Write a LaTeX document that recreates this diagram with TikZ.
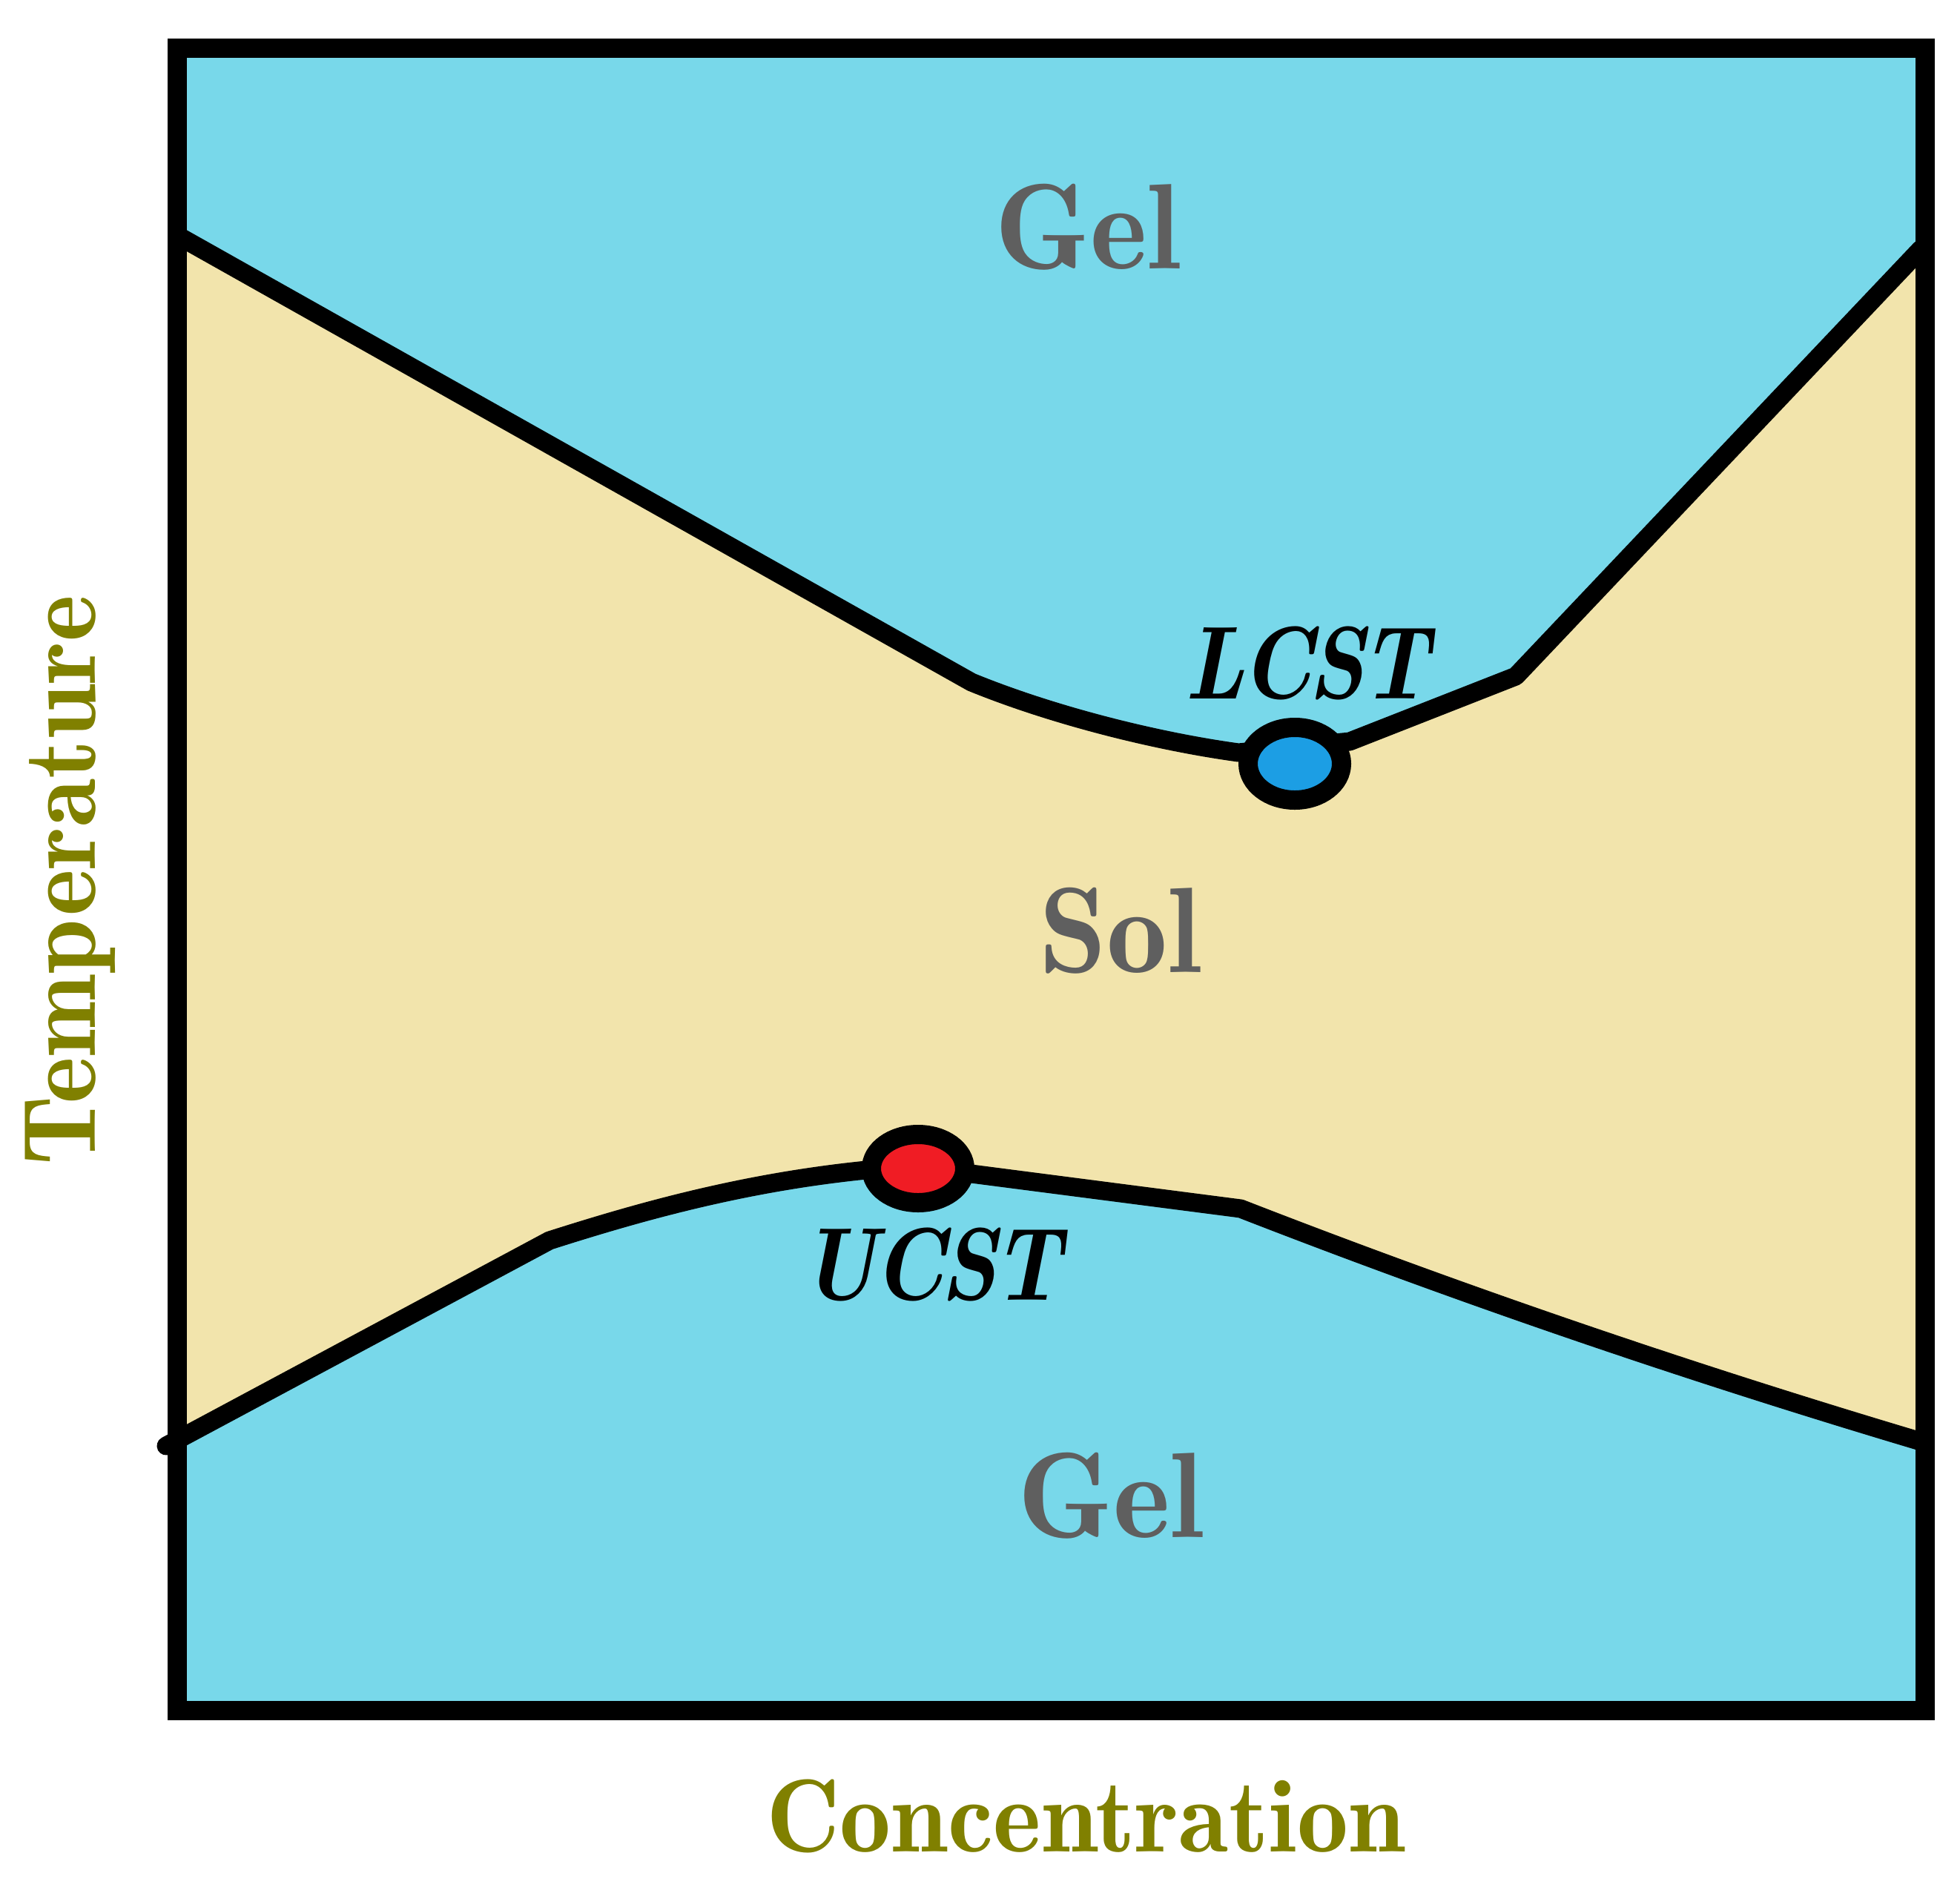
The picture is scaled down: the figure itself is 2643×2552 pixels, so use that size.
\documentclass[tikz,border=0pt]{standalone}
\usepackage{fontspec}
\newfontfamily\labelbf{lmromandemi10-regular.otf}
\newfontfamily\labelbfit{lmromandemi10-regular.otf}[FakeSlant=0.22]
\usetikzlibrary{shapes.geometric}
\definecolor{gelblue}{RGB}{120,216,234}
\definecolor{solbeige}{RGB}{242,228,172}
\definecolor{dotblue}{RGB}{28,158,228}
\definecolor{dotred}{RGB}{240,28,36}
\definecolor{axisolive}{RGB}{128,128,0}
\definecolor{phasegray}{RGB}{95,95,95}
\tikzset{
  boundary/.style={line width=25pt, line join=round, line cap=round, black},
  phaselabel/.style={font=\labelbf\fontsize{164}{164}\selectfont, text=phasegray, anchor=base, inner sep=0pt},
  pointlabel/.style={font=\labelbfit\fontsize{140}{140}\selectfont, text=black, anchor=base, inner sep=0pt},
  axislabel/.style={font=\labelbf\fontsize{140}{140}\selectfont, text=axisolive, anchor=base, inner sep=0pt},
  critdot/.style={ellipse, draw=black, line width=26pt, inner sep=0pt, minimum width=126pt, minimum height=98pt}
}
\begin{document}
\begin{tikzpicture}[x=1pt,y=-1pt]
\useasboundingbox (0,0) rectangle (2643,2552);
\fill[white] (0,0) rectangle (2643,2552);
% gel background
\fill[gelblue] (239,65) rectangle (2596,2307);
% sol region
\fill[solbeige] (240,318) -- (1310,920) .. controls (1420,965) and (1560,1000) .. (1670,1015)
  -- (1820,1000) -- (2044,912) -- (2596,330)
  -- (2596,1944) .. controls (2288,1854) and (1981,1750) .. (1673,1630)
  -- (1310,1583) -- (1168,1578) .. controls (1000,1595) and (860,1635) .. (741,1673)
  -- (240,1942) -- cycle;
% upper boundary (LCST)
\draw[boundary] (240,318) -- (1310,920) .. controls (1420,965) and (1560,1000) .. (1670,1015)
  -- (1820,1000) -- (2044,912) -- (2590,336);
% lower boundary (UCST)
\draw[boundary] (224,1950) -- (741,1673) .. controls (860,1635) and (1000,1595) .. (1168,1578)
  -- (1310,1583) -- (1673,1630) .. controls (1981,1750) and (2288,1854) .. (2590,1944);
% frame
\draw[line width=26pt, black, line join=miter] (239,65) rectangle (2596,2307);
% critical points
\node[critdot, fill=dotblue] (lcstdot) at (1746,1030) {};
\node[critdot, fill=dotred, minimum height=92pt] (ucstdot) at (1238,1576) {};
% labels
\node[pointlabel] (lcst) at (1763,942) {\scalebox{0.9}[1]{LCST}};
\node[pointlabel] (ucst) at (1256,1753) {\scalebox{0.9}[1]{UCST}};
\node[phaselabel] (geltop) at (1467,362) {Gel};
\node[phaselabel] (sol) at (1511,1311) {Sol};
\node[phaselabel] (gelbot) at (1498,2073) {Gel};
\node[axislabel] (conc) at (1464,2497) {\scalebox{0.985}[1]{Concentration}};
\node[axislabel, rotate=90] (temp) at (128,1187) {\scalebox{0.96}[1]{Temperature}};
\end{tikzpicture}
\end{document}
